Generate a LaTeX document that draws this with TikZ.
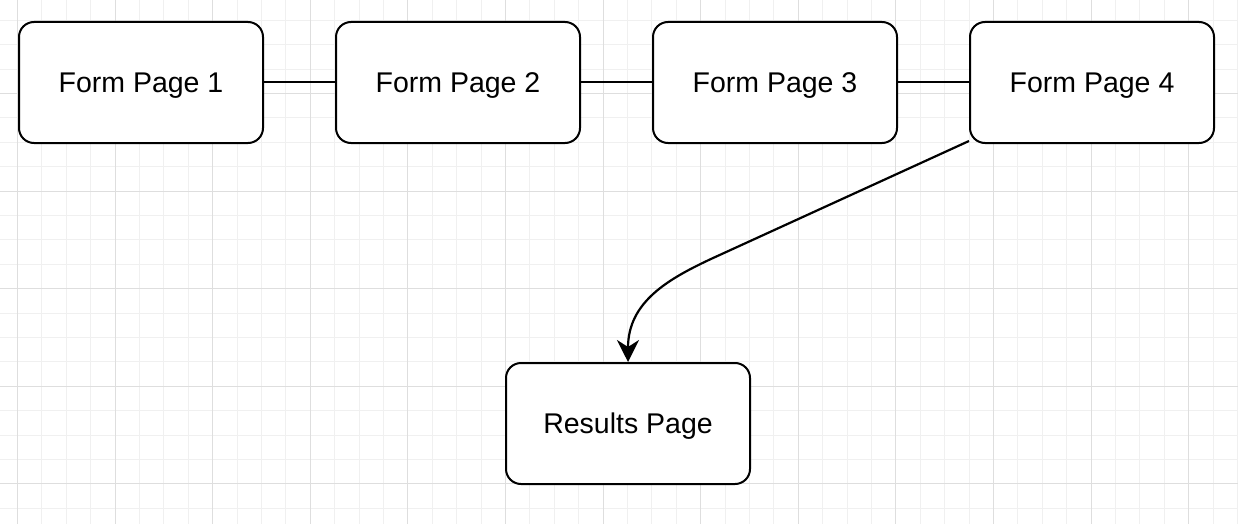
\documentclass[tikz,border=0pt]{standalone}
\usepackage{fontspec}
\setmainfont{Liberation Sans}
\usetikzlibrary{positioning}
\usetikzlibrary{arrows.meta}
\usetikzlibrary{backgrounds}
\usetikzlibrary{calc}

\begin{document}
\begin{tikzpicture}[x=1pt,y=-1pt,
			node distance=71pt,
			page/.style={rectangle, draw, line width=2pt, rounded corners=15pt, fill=white,
					minimum width=244pt, minimum height=121pt, text depth=0pt,
					font=\fontsize{28.5}{34}\selectfont},
			link/.style={line width=2pt},
			flow/.style={line width=2.2pt, -{Stealth[length=22pt,width=22pt,inset=7pt]}},
			minorgrid/.style={draw=black!6, line width=1pt},
			majorgrid/.style={draw=black!13, line width=1pt}]
		\useasboundingbox (0,0) rectangle (1238,524);
		\node[page] (p1) at (141,82.5) {Form Page 1};
		\node[page, right=of p1] (p2) {Form Page 2};
		\node[page, right=of p2] (p3) {Form Page 3};
		\node[page, right=of p3] (p4) {Form Page 4};
		\node[page] (res) at (628,423.5) {Results Page};
		\coordinate (start) at ($(p4.south west)+(0,-3)$);
		\coordinate (bend) at (712,258.5);
		\begin{scope}[on background layer]
			\fill[white] (0,0) rectangle (1238,524);
			\draw[minorgrid, shift={(17.4,20.3)}] (-17.4,-20.3) grid[step=24.4pt] (1220.6,503.7);
			\draw[majorgrid, shift={(17.4,93.5)}] (-17.4,-93.5) grid[step=97.6pt] (1220.6,430.5);
			\draw[link] (p1) -- (p2);
			\draw[link] (p2) -- (p3);
			\draw[link] (p3) -- (p4);
			\draw[flow] (start) -- (bend) .. controls (668,279) and (628,302) .. (res.north);
		\end{scope}
	\end{tikzpicture}
\end{document}
